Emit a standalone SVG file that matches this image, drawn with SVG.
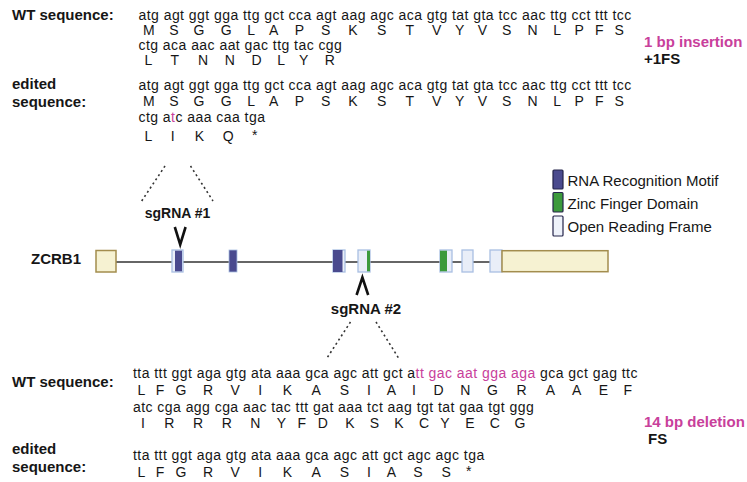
<svg xmlns="http://www.w3.org/2000/svg" width="747" height="482" viewBox="0 0 747 482">
  <style>
    text { font-family: "Liberation Sans", Arial, sans-serif; fill: #161616; }
    .lbl { font-size: 15px; font-weight: bold; }
    .seq { font-size: 14px; letter-spacing: 0.45px; }
    .aa { font-size: 14px; text-anchor: middle; }
    .pink { fill: #c8409b; }
    .note { font-size: 15px; font-weight: bold; }
    .sg { font-weight: bold; text-anchor: middle; }
    .leg { font-size: 15px; }
    .dots { stroke: #333; stroke-width: 1.6; stroke-dasharray: 2 3; fill: none; }
    .chev { stroke: #111; stroke-width: 2.6; fill: none; stroke-linejoin: miter; }
    .utr { fill: #f6f2d2; stroke: #a38d4e; stroke-width: 1.5; }
    .orf { fill: #e9eef8; stroke: #a9bfe2; stroke-width: 1.3; }
    .rrm { fill: #4a4a8e; }
    .znf { fill: #3c9a3c; }
    .intron { stroke: #333; stroke-width: 1.3; }
  </style>

  <!-- upper block: wild-type sequence -->
  <g id="top-wt">
    <text class="lbl" x="12" y="20">WT sequence:</text>
    <text class="seq" x="138.5" y="20">atg agt ggt gga ttg gct cca agt aag agc aca gtg tat gta tcc aac ttg cct ttt tcc</text>
    <g>
      <text class="aa" x="148.9" y="35">M</text><text class="aa" x="173.9" y="35">S</text>
      <text class="aa" x="199" y="35">G</text><text class="aa" x="226.1" y="35">G</text>
      <text class="aa" x="251.1" y="35">L</text><text class="aa" x="273.6" y="35">A</text>
      <text class="aa" x="299.5" y="35">P</text><text class="aa" x="325.7" y="35">S</text>
      <text class="aa" x="352.8" y="35">K</text><text class="aa" x="381.6" y="35">S</text>
      <text class="aa" x="409.9" y="35">T</text><text class="aa" x="436.6" y="35">V</text>
      <text class="aa" x="459.6" y="35">Y</text><text class="aa" x="482.5" y="35">V</text>
      <text class="aa" x="506.7" y="35">S</text><text class="aa" x="532.5" y="35">N</text>
      <text class="aa" x="557.1" y="35">L</text><text class="aa" x="579.2" y="35">P</text>
      <text class="aa" x="599.2" y="35">F</text><text class="aa" x="619.2" y="35">S</text>
    </g>
    <text class="seq" x="138.5" y="49.5">ctg aca aac aat gac ttg tac cgg</text>
    <g>
      <text class="aa" x="148.5" y="65">L</text><text class="aa" x="174.8" y="65">T</text>
      <text class="aa" x="203.1" y="65">N</text><text class="aa" x="229.8" y="65">N</text>
      <text class="aa" x="256.5" y="65">D</text><text class="aa" x="281.1" y="65">L</text>
      <text class="aa" x="303.6" y="65">Y</text><text class="aa" x="329.9" y="65">R</text>
    </g>
    <text class="note pink" x="644" y="47">1 bp insertion</text>
    <text class="note" x="644" y="64">+1FS</text>
  </g>

  <!-- upper block: edited sequence -->
  <g id="top-edited">
    <text class="lbl" x="12" y="89">edited</text>
    <text class="lbl" x="12" y="107">sequence:</text>
    <text class="seq" x="138.5" y="90">atg agt ggt gga ttg gct cca agt aag agc aca gtg tat gta tcc aac ttg cct ttt tcc</text>
    <g>
      <text class="aa" x="148.9" y="106">M</text><text class="aa" x="173.9" y="106">S</text>
      <text class="aa" x="199" y="106">G</text><text class="aa" x="226.1" y="106">G</text>
      <text class="aa" x="251.1" y="106">L</text><text class="aa" x="273.6" y="106">A</text>
      <text class="aa" x="299.5" y="106">P</text><text class="aa" x="325.7" y="106">S</text>
      <text class="aa" x="352.8" y="106">K</text><text class="aa" x="381.6" y="106">S</text>
      <text class="aa" x="409.9" y="106">T</text><text class="aa" x="436.6" y="106">V</text>
      <text class="aa" x="459.6" y="106">Y</text><text class="aa" x="482.5" y="106">V</text>
      <text class="aa" x="506.7" y="106">S</text><text class="aa" x="532.5" y="106">N</text>
      <text class="aa" x="557.1" y="106">L</text><text class="aa" x="579.2" y="106">P</text>
      <text class="aa" x="599.2" y="106">F</text><text class="aa" x="619.2" y="106">S</text>
    </g>
    <text class="seq" x="138.5" y="122">ctg a<tspan class="pink">t</tspan>c aaa caa tga</text>
    <g>
      <text class="aa" x="148.5" y="141">L</text><text class="aa" x="172.7" y="141">I</text>
      <text class="aa" x="199.4" y="141">K</text><text class="aa" x="228.1" y="141">Q</text>
      <text class="aa" x="254.8" y="140">*</text>
    </g>
  </g>

  <!-- legend -->
  <g id="legend">
    <rect x="553" y="170" width="10" height="19" rx="1" fill="#4a4a8e" stroke="#24244a" stroke-width="1.2"/>
    <rect x="553" y="192.5" width="10" height="19.5" rx="1" fill="#3c9a3c" stroke="#24244a" stroke-width="1.2"/>
    <rect x="553" y="216" width="10" height="20" rx="1" fill="#eef2fa" stroke="#24244a" stroke-width="1.2"/>
    <text class="leg" x="567.5" y="186">RNA Recognition Motif</text>
    <text class="leg" x="567.5" y="209">Zinc Finger Domain</text>
    <text class="leg" x="567.5" y="231.5">Open Reading Frame</text>
  </g>

  <!-- gene model -->
  <g id="gene">
    <text class="lbl" x="31" y="264">ZCRB1</text>
    <line class="intron" x1="116" y1="262" x2="490" y2="262"/>
    <g id="exon1"><rect class="utr" x="96" y="250.5" width="20" height="21.5"/></g>
    <g id="exon2"><rect class="orf" x="172" y="250" width="11" height="22"/><rect class="rrm" x="175" y="250.7" width="7" height="20.6"/></g>
    <g id="exon3"><rect class="rrm" x="229" y="250" width="8" height="22" stroke="#a9bfe2" stroke-width="0.8"/></g>
    <g id="exon4"><rect class="orf" x="333" y="250" width="12" height="22"/><rect class="rrm" x="333" y="250" width="9.5" height="22"/></g>
    <g id="exon5"><rect class="orf" x="358" y="250" width="12" height="22"/><rect class="znf" x="367" y="250.7" width="3" height="20.6"/></g>
    <g id="exon6"><rect class="orf" x="440" y="250" width="12" height="22"/><rect class="znf" x="440" y="250.7" width="7" height="20.6"/></g>
    <g id="exon7"><rect class="orf" x="462" y="250" width="11" height="22"/></g>
    <g id="exon8"><rect class="orf" x="490" y="250" width="12" height="22"/><rect class="utr" x="502" y="250.7" width="106" height="21"/></g>
  </g>

  <!-- guide RNA sites -->
  <g id="sgrna1">
    <text class="sg" x="177.5" y="217.5" font-size="14">sgRNA #1</text>
    <path class="chev" d="M174.8 227 L180.2 244.5 L185.6 227"/>
  </g>
  <g id="sgrna2">
    <text class="sg" x="366" y="313.5" font-size="15">sgRNA #2</text>
    <path class="chev" d="M356.6 295 L362.4 277.5 L368.2 295"/>
  </g>

  <!-- connectors: zoom-in guides from the gene model to the sequences -->
  <g id="connectors">
    <line class="dots" x1="165" y1="166" x2="141" y2="202"/>
    <line class="dots" x1="190.5" y1="166" x2="213" y2="201"/>
    <line class="dots" x1="350.5" y1="322" x2="327" y2="358"/>
    <line class="dots" x1="376" y1="322" x2="398.5" y2="358"/>
  </g>

  <!-- lower block: wild-type sequence -->
  <g id="bottom-wt">
    <text class="lbl" x="12" y="387">WT sequence:</text>
    <text class="seq" x="133" y="378">tta ttt ggt aga gtg ata aaa gca agc att gct a<tspan class="pink">tt gac aat gga aga</tspan> gca gct gag ttc</text>
    <g>
      <text class="aa" x="141.3" y="395">L</text><text class="aa" x="160.1" y="395">F</text>
      <text class="aa" x="181" y="395">G</text><text class="aa" x="208.1" y="395">R</text>
      <text class="aa" x="235.2" y="395">V</text><text class="aa" x="260.2" y="395">I</text>
      <text class="aa" x="287.3" y="395">K</text><text class="aa" x="316.1" y="395">A</text>
      <text class="aa" x="344.4" y="395">S</text><text class="aa" x="369" y="395">I</text>
      <text class="aa" x="391.5" y="395">A</text><text class="aa" x="414" y="395">I</text>
      <text class="aa" x="438.6" y="395">D</text><text class="aa" x="465.3" y="395">N</text>
      <text class="aa" x="492.4" y="395">G</text><text class="aa" x="521.6" y="395">R</text>
      <text class="aa" x="550.4" y="395">A</text><text class="aa" x="576.7" y="395">A</text>
      <text class="aa" x="603.3" y="395">E</text><text class="aa" x="627.9" y="395">F</text>
    </g>
    <text class="seq" x="133" y="411.5">atc cga agg cga aac tac ttt gat aaa tct aag tgt tat gaa tgt ggg</text>
    <g>
      <text class="aa" x="143" y="428">I</text><text class="aa" x="169.3" y="428">R</text>
      <text class="aa" x="198" y="428">R</text><text class="aa" x="226.8" y="428">R</text>
      <text class="aa" x="255.2" y="428">N</text><text class="aa" x="281.4" y="428">Y</text>
      <text class="aa" x="301.9" y="428">F</text><text class="aa" x="322.7" y="428">D</text>
      <text class="aa" x="349.8" y="428">K</text><text class="aa" x="374.4" y="428">S</text>
      <text class="aa" x="399" y="428">K</text><text class="aa" x="424" y="428">C</text>
      <text class="aa" x="444.9" y="428">Y</text><text class="aa" x="469.9" y="428">E</text>
      <text class="aa" x="494.9" y="428">C</text><text class="aa" x="519.9" y="428">G</text>
    </g>
    <text class="note pink" x="644" y="427">14 bp deletion</text>
    <text class="note" x="648" y="443.5">FS</text>
  </g>

  <!-- lower block: edited sequence -->
  <g id="bottom-edited">
    <text class="lbl" x="12" y="454">edited</text>
    <text class="lbl" x="12" y="472">sequence:</text>
    <text class="seq" x="133" y="460">tta ttt ggt aga gtg ata aaa gca agc att gct agc agc tga</text>
    <g>
      <text class="aa" x="141.3" y="477">L</text><text class="aa" x="160.1" y="477">F</text>
      <text class="aa" x="181" y="477">G</text><text class="aa" x="208.1" y="477">R</text>
      <text class="aa" x="235.2" y="477">V</text><text class="aa" x="260.2" y="477">I</text>
      <text class="aa" x="287.3" y="477">K</text><text class="aa" x="316.1" y="477">A</text>
      <text class="aa" x="344.4" y="477">S</text><text class="aa" x="369" y="477">I</text>
      <text class="aa" x="391.5" y="477">A</text><text class="aa" x="417.8" y="477">S</text>
      <text class="aa" x="446.1" y="477">S</text><text class="aa" x="468.8" y="476">*</text>
    </g>
  </g>
</svg>
